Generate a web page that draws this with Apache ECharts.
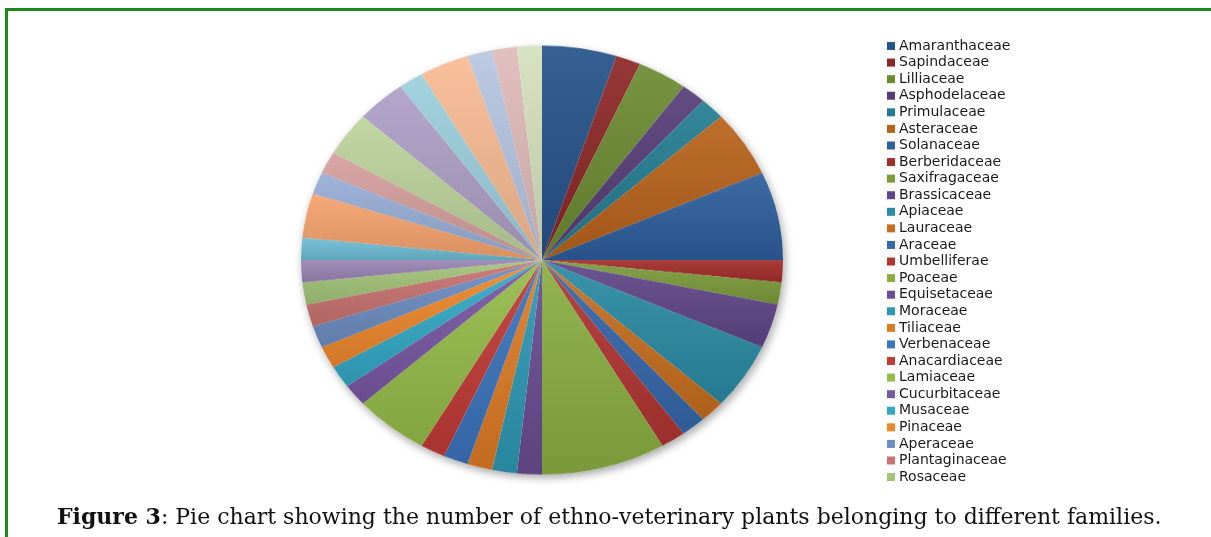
<!DOCTYPE html>
<html>
<head>
<meta charset="utf-8">
<script src="https://cdn.jsdelivr.net/npm/echarts@6/dist/echarts.min.js"></script>
<style>
  html, body { margin: 0; padding: 0; background: #ffffff; }
  #wrap { position: relative; width: 1211px; height: 537px; overflow: hidden; background: #fff; }
  #frame { position: absolute; left: 5px; top: 8px; right: 0; bottom: -5px;
           border-left: 3px solid #1b8a1b; border-top: 3px solid #1b8a1b; }
  #pie { position: absolute; left: 0; top: 0; width: 1211px; height: 537px;
         transform-origin: 542px 260px; transform: scaleY(0.89); }
  #overlay { position: absolute; left: 0; top: 0; width: 1211px; height: 537px; }
</style>
</head>
<body>
<div id="wrap">
  <div id="frame"></div>
  <div id="pie"></div>
  <div id="overlay"></div>
</div>
<script>
// ---- data ----
const families = [
  'Amaranthaceae','Sapindaceae','Lilliaceae','Asphodelaceae','Primulaceae','Asteraceae',
  'Solanaceae','Berberidaceae','Saxifragaceae','Brassicaceae','Apiaceae','Lauraceae',
  'Araceae','Umbelliferae','Poaceae','Equisetaceae','Moraceae','Tiliaceae',
  'Verbenaceae','Anacardiaceae','Lamiaceae','Cucurbitaceae','Musaceae','Pinaceae',
  'Aperaceae','Plantaginaceae','Rosaceae',
  'Family 28','Family 29','Family 30','Family 31','Family 32','Family 33',
  'Family 34','Family 35','Family 36','Family 37','Family 38','Family 39'
];
const counts = [
  3,1,2,1,1,3,
  4,1,1,2,3,1,
  1,1,5,1,1,1,
  1,1,3,1,1,1,
  1,1,1,
  1,1,2,1,1,2,
  2,1,2,1,1,1
];
const legendNames = families.slice(0, 27);
const captionBold = 'Figure 3';
const captionText = ': Pie chart showing the number of ethno-veterinary plants belonging to different families.';

// ---- styles ----
const palette = [
  '#26528a','#8c2826','#6b8b32','#553d77','#237d92','#b8621b',
  '#2e5e9c','#a32e2b','#7c9c3b','#5f4689','#2a8ba4','#c76e1f',
  '#3567aa','#b03532','#8aae42','#6a4c92','#2e98b4','#dd7b25',
  '#3b74bd','#c03a36','#95bb49','#7758a2','#33a8c6','#ee872c',
  '#6c8dc1','#c87370','#a3c478','#9985b5','#6dbdd4','#f6a36d',
  '#97aed6','#d59f9e','#bdd39c','#af9fc6','#9ccfdd','#f8bb93',
  '#b6c5e2','#e0bbba','#d3e1bd'
];

function shade(hex, f) {
  const n = parseInt(hex.slice(1), 16);
  let r = (n >> 16) & 255, g = (n >> 8) & 255, b = n & 255;
  const adj = c => f >= 0 ? Math.round(c + (255 - c) * f) : Math.round(c * (1 + f));
  r = adj(r); g = adj(g); b = adj(b);
  return 'rgb(' + r + ',' + g + ',' + b + ')';
}

const pieData = families.map((name, i) => ({
  name: name,
  value: counts[i],
  itemStyle: {
    color: {
      type: 'linear', x: 0, y: 0, x2: 0, y2: 1,
      colorStops: [
        { offset: 0, color: shade(palette[i], 0.08) },
        { offset: 1, color: shade(palette[i], -0.12) }
      ]
    }
  }
}));

const pieChart = echarts.init(document.getElementById('pie'), null, { renderer: 'canvas' });
pieChart.setOption({
  animation: false,
  series: [
    {
      type: 'pie',
      silent: true,
      z: 1,
      center: [542, 260],
      radius: 241,
      label: { show: false },
      itemStyle: {
        color: '#ffffff',
        shadowBlur: 10,
        shadowOffsetX: 2,
        shadowOffsetY: 4,
        shadowColor: 'rgba(0,0,0,0.35)'
      },
      data: [{ name: 'bg', value: 1 }]
    },
    {
      type: 'pie',
      z: 2,
      center: [542, 260],
      radius: 241,
      startAngle: 90,
      clockwise: true,
      label: { show: false },
      labelLine: { show: false },
      itemStyle: { borderWidth: 0 },
      emphasis: { disabled: true },
      data: pieData
    }
  ]
});

const overlay = echarts.init(document.getElementById('overlay'), null, { renderer: 'canvas' });
overlay.setOption({
  animation: false,
  title: {
    left: 52,
    top: 498,
    text: '{b|' + captionBold + '}{n|' + captionText + '}',
    textStyle: {
      fontWeight: 'normal',
      rich: {
        b: { fontFamily: 'DejaVu Serif', fontWeight: 'bold', fontSize: 22, color: '#111', lineHeight: 30 },
        n: { fontFamily: 'DejaVu Serif', fontWeight: 'normal', fontSize: 22, color: '#111', lineHeight: 30 }
      }
    }
  },
  legend: {
    orient: 'vertical',
    left: 882,
    top: 34,
    icon: 'rect',
    itemWidth: 8,
    itemHeight: 8,
    itemGap: 2.58,
    selectedMode: false,
    data: legendNames,
    textStyle: { fontFamily: 'DejaVu Sans', fontSize: 14, color: '#1a1a1a', lineHeight: 14, padding: [0, 0, 0, -1] }
  },
  series: [{
    type: 'pie',
    silent: true,
    center: [-100, -100],
    radius: 0,
    label: { show: false },
    labelLine: { show: false },
    data: families.map((name, i) => ({ name: name, value: counts[i], itemStyle: { color: palette[i] } }))
  }]
});
</script>
</body>
</html>
